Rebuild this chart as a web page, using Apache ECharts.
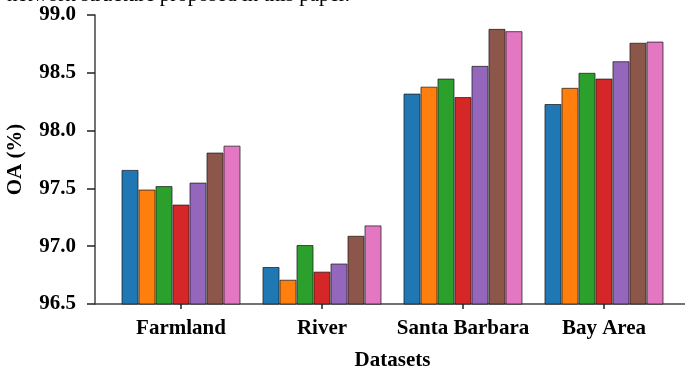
<!DOCTYPE html>
<html>
<head>
<meta charset="utf-8">
<script src="https://cdn.jsdelivr.net/npm/echarts@6/dist/echarts.min.js"></script>
<style>html,body{margin:0;padding:0;background:#fff;}#c{width:685px;height:371px;}</style>
</head>
<body>
<div id="c"></div>
<script>
const categories = ['Farmland', 'River', 'Santa Barbara', 'Bay Area'];
const yTicks = [96.5, 97.0, 97.5, 98.0, 98.5, 99.0];
const s1 = [97.66, 96.82, 98.32, 98.23];
const s2 = [97.49, 96.71, 98.38, 98.37];
const s3 = [97.52, 97.01, 98.45, 98.50];
const s4 = [97.36, 96.78, 98.29, 98.45];
const s5 = [97.55, 96.85, 98.56, 98.60];
const s6 = [97.81, 97.09, 98.88, 98.76];
const s7 = [97.87, 97.18, 98.86, 98.77];
const seriesValues = [s1, s2, s3, s4, s5, s6, s7];
const colors = ['#1f77b4', '#ff7f0e', '#2ca02c', '#d62728', '#9467bd', '#8c564b', '#e377c2'];
const captionText = 'network structure proposed in this paper.';

const font = 'Liberation Serif';
const chart = echarts.init(document.getElementById('c'), null, {renderer: 'canvas'});
const catIdx = categories.map((_, i) => i);
chart.setOption({
  animation: false,
  graphic: [{
    type: 'text', left: 7, top: -15,
    style: {text: captionText, fontFamily: font, fontSize: 21, fill: '#000'}
  }],
  grid: {left: 95, right: -5, top: 15, bottom: 67, containLabel: false, outerBoundsMode: 'none'},
  xAxis: {
    type: 'value', min: -0.61, max: 3.61,
    splitLine: {show: false},
    axisLine: {show: true, onZero: false, lineStyle: {color: '#444', width: 1.5}},
    axisTick: {show: true, customValues: catIdx, length: 5, lineStyle: {color: '#222', width: 1.5}},
    axisLabel: {
      customValues: catIdx, margin: 14,
      formatter: v => categories[Math.round(v)],
      fontFamily: font, fontWeight: 'bold', fontSize: 21, color: '#000'
    },
    name: 'Datasets', nameLocation: 'middle', nameGap: 46,
    nameTextStyle: {fontFamily: font, fontWeight: 'bold', fontSize: 21, color: '#000'}
  },
  yAxis: {
    type: 'value', min: yTicks[0], max: yTicks[yTicks.length - 1], interval: 0.5,
    splitLine: {show: false},
    axisLine: {show: true, onZero: false, lineStyle: {color: '#444', width: 1.5}},
    axisTick: {show: true, length: 8, lineStyle: {color: '#222', width: 1.5}},
    axisLabel: {
      margin: 19, formatter: v => v.toFixed(1),
      fontFamily: font, fontWeight: 'bold', fontSize: 21, color: '#000'
    },
    name: 'OA (%)', nameLocation: 'middle', nameGap: 69,
    nameTextStyle: {fontFamily: font, fontWeight: 'bold', fontSize: 21, color: '#000'}
  },
  series: seriesValues.map((vals, k) => ({
    type: 'bar',
    barWidth: 17,
    barGap: '0%',
    itemStyle: {color: colors[k], borderColor: 'rgba(30,30,30,0.75)', borderWidth: 1},
    data: vals.map((v, i) => [i, v])
  }))
});
</script>
</body>
</html>
